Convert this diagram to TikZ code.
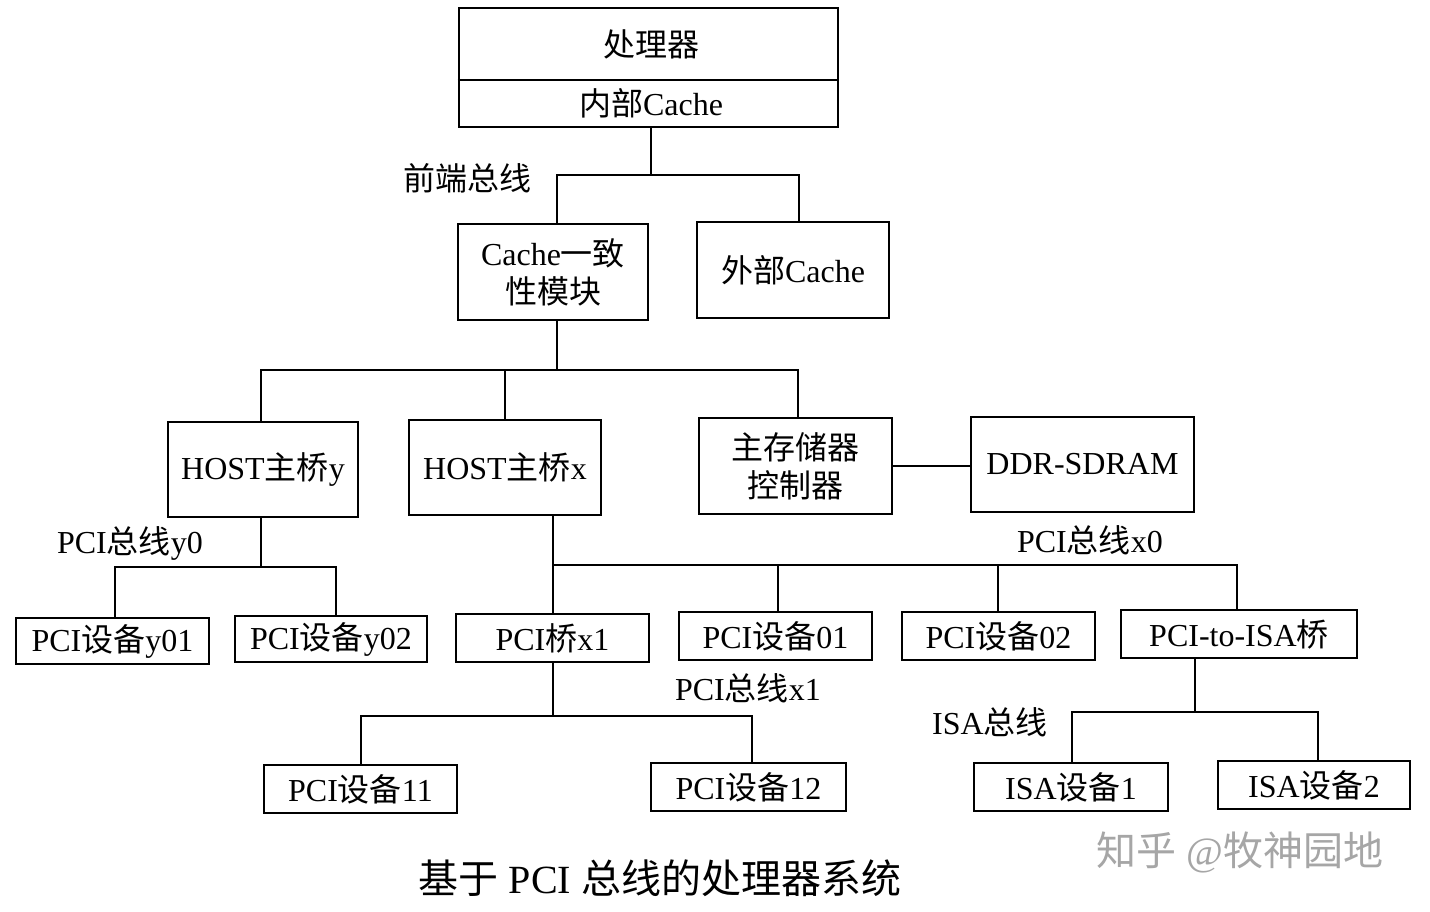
\documentclass[tikz,border=0pt]{standalone}
\usepackage{fontspec}
\setmainfont{Liberation Serif}
\newfontfamily\cjk{Noto Sans CJK SC}
\begin{document}
\begin{tikzpicture}[x=0.5pt,y=-0.5pt,line width=1.3pt,
  bx/.style={draw,line width=1.4pt,inner sep=0pt,font=\fontsize{16}{19}\selectfont,align=center},
  lbl/.style={font=\fontsize{16}{19}\selectfont}]
\useasboundingbox (0,0) rectangle (1430,911);
\newcommand\B[6]{\node[bx,minimum width=#4*0.5pt-#2*0.5pt,minimum height=#5*0.5pt-#3*0.5pt] (#1) at ({(#2+#4)/2},{(#3+#5)/2}) {#6};}
\B{cpu}{459}{8}{838}{127}{}
\draw (cpu.west|-0,80) -- (cpu.east|-0,80);
\node[lbl] at (651,44) {{\cjk 处理器}};
\node[lbl] at (651,103) {{\cjk 内部}Cache};
\B{cc}{458}{224}{648}{320}{Cache{\cjk 一致}\\{\cjk 性模块}}
\B{ec}{697}{222}{889}{318}{{\cjk 外部}Cache}
\B{hy}{168}{422}{358}{517}{HOST{\cjk 主桥}y}
\B{hx}{409}{420}{601}{515}{HOST{\cjk 主桥}x}
\B{mc}{699}{418}{892}{514}{{\cjk 主存储器}\\{\cjk 控制器}}
\B{ddr}{971}{417}{1194}{512}{DDR-SDRAM}
\B{y01}{16}{618}{209}{664}{PCI{\cjk 设备}y01}
\B{y02}{235}{616}{427}{662}{PCI{\cjk 设备}y02}
\B{bx1}{456}{614}{649}{662}{PCI{\cjk 桥}x1}
\B{d01}{679}{612}{872}{660}{PCI{\cjk 设备}01}
\B{d02}{902}{612}{1095}{660}{PCI{\cjk 设备}02}
\B{isa}{1121}{610}{1357}{658}{PCI-to-ISA{\cjk 桥}}
\B{d11}{264}{765}{457}{813}{PCI{\cjk 设备}11}
\B{d12}{651}{763}{846}{811}{PCI{\cjk 设备}12}
\B{i1}{974}{763}{1168}{811}{ISA{\cjk 设备}1}
\B{i2}{1218}{761}{1410}{809}{ISA{\cjk 设备}2}
\coordinate (j1) at (651,175);
\draw (cpu.south-|j1) -- (j1);
\draw (cc.north-|557,0) |- (j1) -| (ec.north-|799,0);
\coordinate (j2) at (557,370);
\draw (cc.south-|j2) -- (j2);
\draw (hy.north-|261,0) |- (798,370) -- (mc.north-|798,0);
\draw (hx.north-|505,0) -- (505,370);
\draw (mc.east|-0,466) -- (ddr.west|-0,466);
\draw (hy.south-|261,0) -- (261,567);
\draw (y01.north-|115,0) |- (336,567) -- (y02.north-|336,0);
\draw (hx.south-|553,0) -- (bx1.north-|553,0);
\draw (553,565) -| (d01.north-|778,0);
\draw (553,565) -| (d02.north-|998,0);
\draw (553,565) -| (isa.north-|1237,0);
\draw (bx1.south-|553,0) -- (553,716);
\draw (d11.north-|361,0) |- (752,716) -- (d12.north-|752,0);
\draw (isa.south-|1195,0) -- (1195,712);
\draw (i1.north-|1072,0) |- (1318,712) -- (i2.north-|1318,0);
\node[lbl] at (467,178) {{\cjk 前端总线}};
\node[lbl] at (130,543) {PCI{\cjk 总线}y0};
\node[lbl] at (1090,540) {PCI{\cjk 总线}x0};
\node[lbl] at (748,688) {PCI{\cjk 总线}x1};
\node[lbl] at (990,722) {ISA{\cjk 总线}};
\node[font=\fontsize{20}{24}\selectfont] at (660,878) {{\cjk 基于} PCI {\cjk 总线的处理器系统}};
\node[font=\fontsize{20}{24}\selectfont,text=black!35] at (1240,852) {{\cjk 知乎} @{\cjk 牧神园地}};
\end{tikzpicture}
\end{document}
